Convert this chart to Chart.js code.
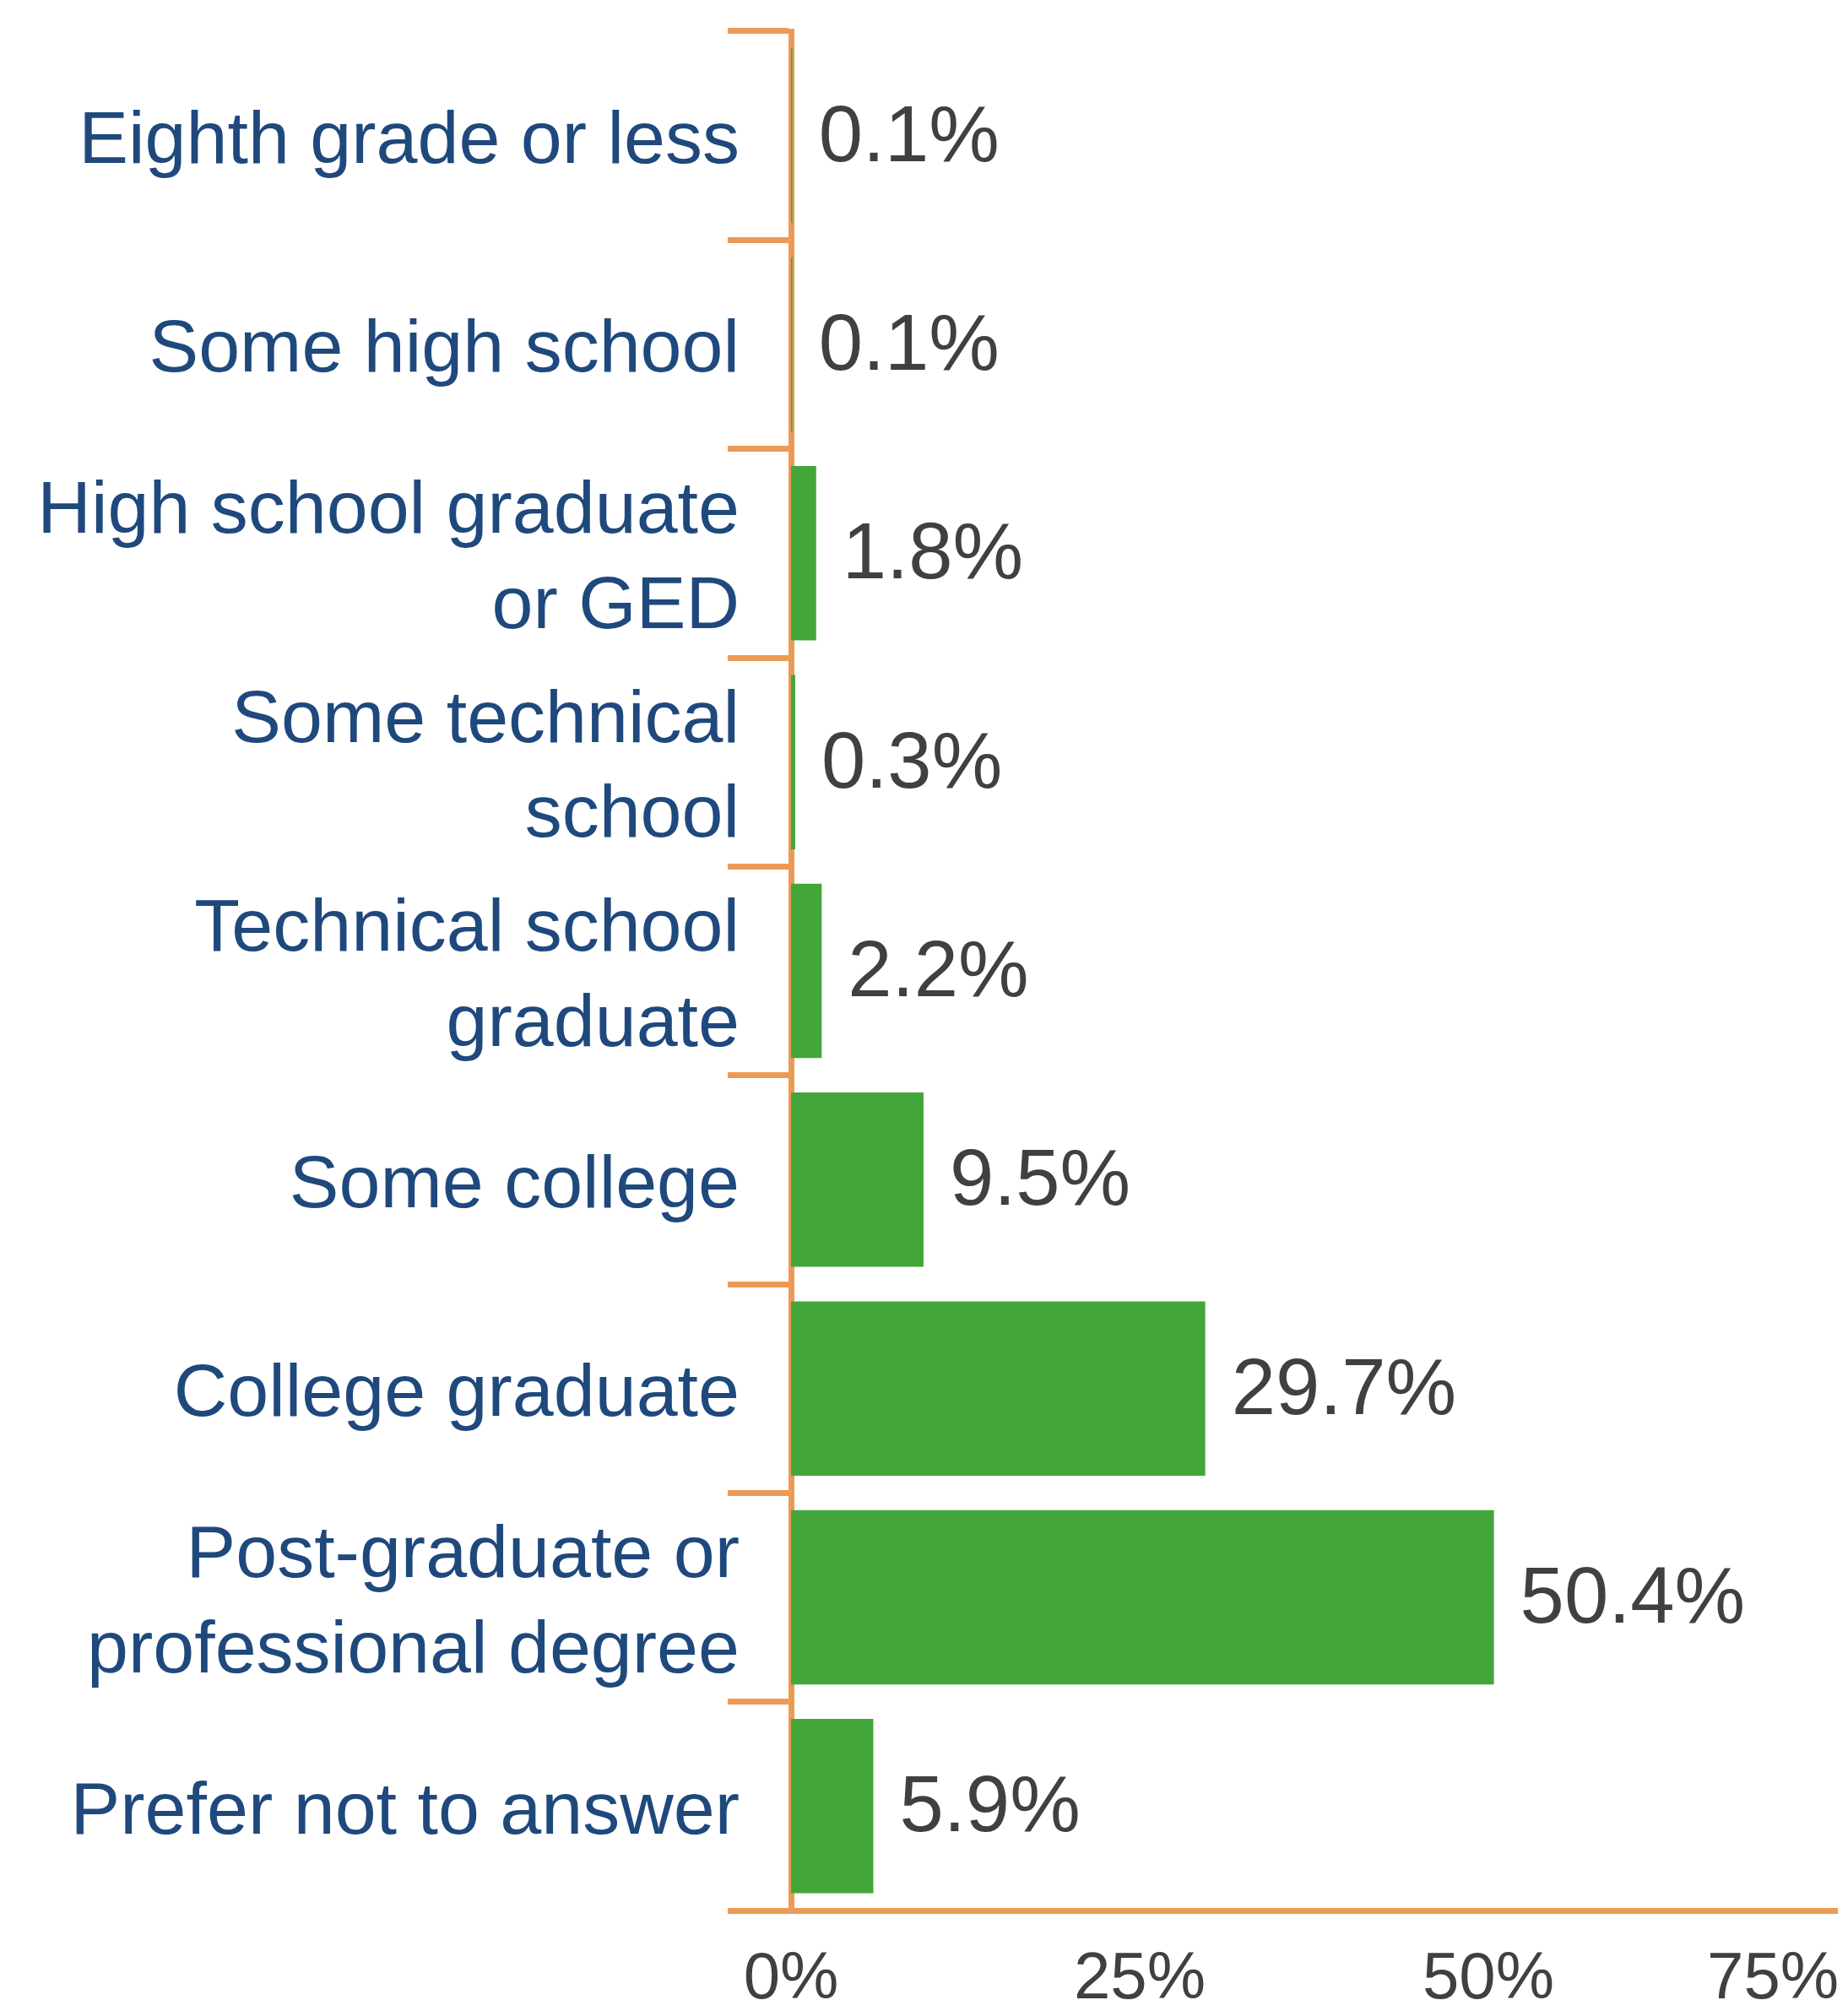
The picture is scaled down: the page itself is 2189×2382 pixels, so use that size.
<!DOCTYPE html>
<html>
<head>
<meta charset="utf-8">
<script src="https://cdn.jsdelivr.net/npm/chart.js@4.4.1/dist/chart.umd.min.js"></script>
<style>
  html, body { margin: 0; padding: 0; background: #ffffff; overflow: hidden; }
  #wrap { width: 2189px; height: 2382px; }
</style>
</head>
<body>
<div id="wrap"><canvas id="c" width="2189" height="2382"></canvas></div>
<script>
const categories = [
  "Eighth grade or less",
  "Some high school",
  ["High school graduate", "or GED"],
  ["Some technical", "school"],
  ["Technical school", "graduate"],
  "Some college",
  "College graduate",
  ["Post-graduate or", "professional degree"],
  "Prefer not to answer"
];
const percentValues = [0.1, 0.1, 1.8, 0.3, 2.2, 9.5, 29.7, 50.4, 5.9];
const xTickValues = [0, 25, 50, 75];

const ORANGE = '#EC9A55';
const GREEN = '#43A63A';
const BLUE = '#1F497D';
const GRAY = '#404040';
const FONT = '"Liberation Sans", Arial, Helvetica, sans-serif';

const valueLabels = {
  id: 'valueLabels',
  afterDraw(chart) {
    const ctx = chart.ctx;
    const meta = chart.getDatasetMeta(0);
    ctx.save();
    ctx.font = '94px ' + FONT;
    ctx.fillStyle = GRAY;
    ctx.textAlign = 'left';
    ctx.textBaseline = 'middle';
    meta.data.forEach((el, i) => {
      const v = chart.data.datasets[0].data[i];
      ctx.fillText(v.toFixed(1) + '%', el.x + 31, el.y + 4);
    });
    ctx.restore();
  }
};

new Chart(document.getElementById('c'), {
  type: 'bar',
  data: {
    labels: categories,
    datasets: [{
      data: percentValues,
      backgroundColor: GREEN,
      borderWidth: 0,
      barPercentage: 0.835,
      categoryPercentage: 1.0
    }]
  },
  options: {
    indexAxis: 'y',
    responsive: false,
    animation: false,
    devicePixelRatio: 1,
    layout: { padding: { top: 37, right: 13, left: 0, bottom: 0 } },
    plugins: { legend: { display: false }, tooltip: { enabled: false } },
    scales: {
      x: {
        min: 0,
        max: 75,
        z: 1,
        afterBuildTicks(scale) {
          scale.ticks = xTickValues.map(v => ({ value: v }));
        },
        afterFit(scale) {
          scale.paddingRight = 0;
          scale.paddingLeft = 0;
          scale.height = 119;
        },
        grid: { display: false, drawTicks: false },
        border: { display: true, color: ORANGE, width: 7 },
        ticks: {
          color: GRAY,
          padding: 36,
          maxRotation: 0,
          autoSkip: false,
          font: { family: FONT, size: 78, lineHeight: 1.2 },
          callback(v, i, ticks) {
            return v + '%' + (i === ticks.length - 1 ? '       ' : '');
          }
        }
      },
      y: {
        z: 1,
        afterFit(scale) {
          scale.width = 937;
          scale.paddingTop = 0;
          scale.paddingBottom = 0;
        },
        grid: {
          display: true,
          drawOnChartArea: false,
          drawTicks: true,
          tickLength: 75,
          color: ORANGE,
          lineWidth: 7
        },
        border: { display: true, color: ORANGE, width: 7 },
        ticks: {
          color: BLUE,
          padding: -14,
          labelOffset: 8,
          autoSkip: false,
          font: { family: FONT, size: 88, lineHeight: 1.28 }
        }
      }
    }
  },
  plugins: [valueLabels]
});
</script>
</body>
</html>
